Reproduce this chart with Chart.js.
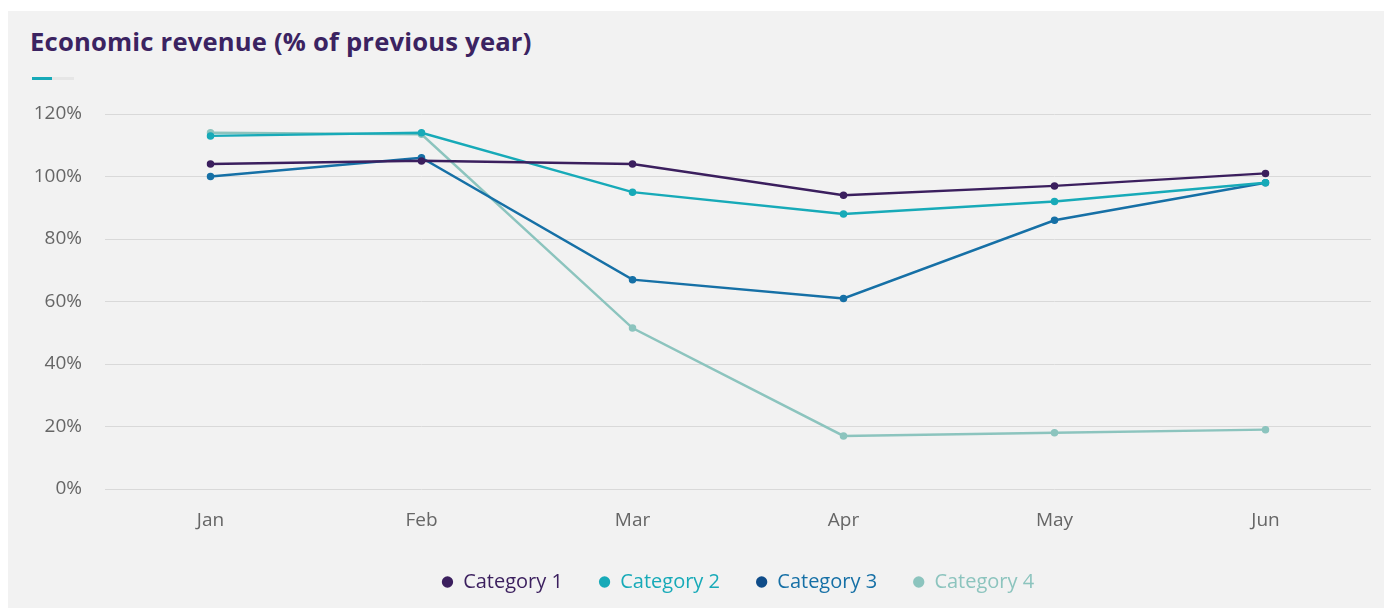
<!DOCTYPE html>
<html>
<head>
<meta charset="utf-8">
<script src="https://cdn.jsdelivr.net/npm/chart.js@4"></script>
<style>
  body { margin: 0; background: #fff; }
  #panel {
    position: absolute; left: 8px; top: 11px; width: 1376px; height: 597px;
    background: #f2f2f2; font-family: "Open Sans", sans-serif;
  }
  #title {
    position: absolute; left: 22px; top: 13px; margin: 0;
    font-size: 25.6px; font-weight: 700; color: #3b2361; letter-spacing: 0.2px;
  }
  #accent {
    position: absolute; left: 24px; top: 66px; width: 42px; height: 3px; background: #e6e6e6;
  }
  #accent span { display: block; width: 20px; height: 3px; background: #17aab8; }
  #chartBox { position: absolute; left: 0; top: 79px; width: 1376px; height: 518px; }
</style>
</head>
<body>
<div id="panel">
  <h1 id="title">Economic revenue (% of previous year)</h1>
  <div id="accent"><span></span></div>
  <div id="chartBox"><canvas id="revenueChart"></canvas></div>
</div>
<script>
const months = ['Jan', 'Feb', 'Mar', 'Apr', 'May', 'Jun'];
const category1 = [104, 105, 104, 94, 97, 101];
const category2 = [113, 114, 95, 88, 92, 98];
const category3 = [100, 106, 67, 61, 86, 98];
const category4 = [114, 113.5, 51.5, 17, 18, 19];
const yTicks = [0, 20, 40, 60, 80, 100, 120];

const seriesColors = ['#3b1f5e', '#17aab8', '#1670a6', '#8cc4be'];
const legendColors = ['#3b1f5e', '#17aab8', '#1670a6', '#8cc4be'];
const legendDots = ['#3b1f5e', '#17aab8', '#0f4c89', '#8cc4be'];

function makeSet(label, data, i) {
    return {
        label: label,
        data: data,
        borderColor: seriesColors[i],
        backgroundColor: seriesColors[i],
        pointBackgroundColor: seriesColors[i],
        pointBorderColor: seriesColors[i],
        borderWidth: 2.5,
        pointRadius: 2.5,
        pointHoverRadius: 4,
        tension: 0
    };
}

const ctx = document.getElementById('revenueChart').getContext('2d');
new Chart(ctx, {
    type: 'line',
    data: {
        labels: months,
        datasets: [
            makeSet('Category 1', category1, 0),
            makeSet('Category 2', category2, 1),
            makeSet('Category 3', category3, 2),
            makeSet('Category 4', category4, 3)
        ]
    },
    options: {
        responsive: true,
        maintainAspectRatio: false,
        animation: false,
        layout: { padding: { top: 24, right: 13, bottom: 6, left: 0 } },
        scales: {
            x: {
                offset: true,
                grid: { display: false },
                border: { display: false },
                ticks: { color: '#666', padding: 12, font: { family: 'Open Sans', size: 19 } },
                afterFit: function (scale) { scale.height = 47; }
            },
            y: {
                min: 0,
                max: 120,
                afterBuildTicks: function (scale) {
                    scale.ticks = yTicks.map(v => ({ value: v }));
                },
                grid: { color: '#d9d9d9', lineWidth: 1, drawTicks: false },
                border: { display: false },
                ticks: {
                    color: '#666',
                    padding: 23,
                    font: { family: 'Open Sans', size: 19 },
                    callback: v => v + '%'
                },
                afterFit: function (scale) {
                    scale.width = 97;
                    scale.paddingTop = 4;
                    scale.paddingBottom = 4;
                }
            }
        },
        plugins: {
            legend: {
                position: 'bottom',
                fullSize: false,
                labels: {
                    usePointStyle: true,
                    pointStyle: 'circle',
                    boxHeight: 8,
                    pointStyleWidth: 11.3,
                    padding: 36,
                    font: { family: 'Open Sans', size: 20 },
                    generateLabels: function (chart) {
                        return chart.data.datasets.map((ds, i) => ({
                            text: ds.label,
                            fillStyle: legendDots[i],
                            strokeStyle: legendDots[i],
                            fontColor: legendColors[i],
                            lineWidth: 0,
                            pointStyle: 'circle',
                            datasetIndex: i,
                            hidden: false
                        }));
                    }
                }
            },
            tooltip: { enabled: false }
        }
    }
});
</script>
</body>
</html>
